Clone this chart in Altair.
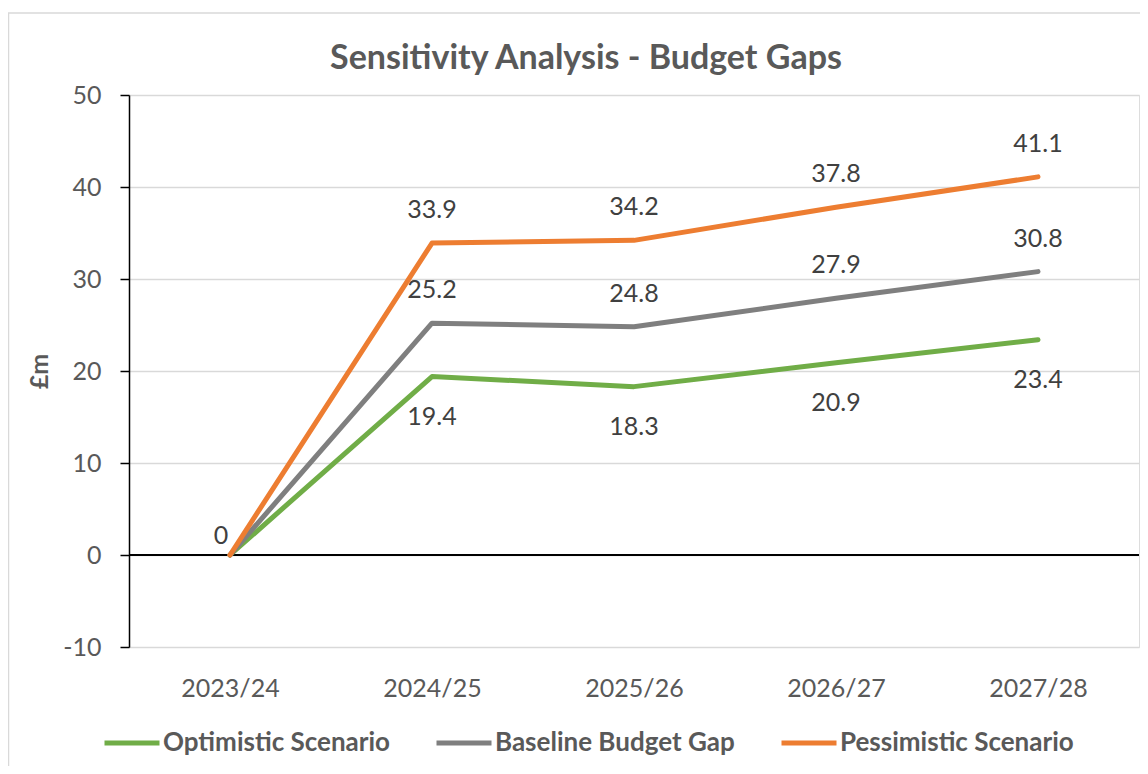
import altair as alt
import pandas as pd

years = ["2023/24", "2024/25", "2025/26", "2026/27", "2027/28"]
series = ["Optimistic Scenario", "Baseline Budget Gap", "Pessimistic Scenario"]
optimistic = [0, 19.4, 18.3, 20.9, 23.4]
baseline = [0, 25.2, 24.8, 27.9, 30.8]
pessimistic = [0, 33.9, 34.2, 37.8, 41.1]
colors = ["#70AD47", "#7F7F7F", "#ED7D31"]
y_ticks = [-10, 0, 10, 20, 30, 40, 50]
title_text = "Sensitivity Analysis - Budget Gaps"

rows = []
for s, vals in zip(series, [optimistic, baseline, pessimistic]):
    for yr, v in zip(years, vals):
        rows.append({"Year": yr, "Series": s, "Value": v})
df = pd.DataFrame(rows)

FONT = "Lato"
W, H = 1010, 552

x_enc = alt.X(
    "Year:N", sort=years,
    scale=alt.Scale(type="point", padding=0.5),
    axis=alt.Axis(title=None, labelAngle=0, domain=False, ticks=False, grid=False,
                  labelPadding=29, labelFontSize=25, labelColor="#595959", labelFont=FONT),
)
y_enc = alt.Y(
    "Value:Q",
    scale=alt.Scale(domain=[-10, 50], nice=False, zero=False),
    axis=alt.Axis(values=y_ticks, title="£m", titleFont=FONT, titleFontSize=25,
                  titleFontWeight="bold", titleColor="#595959", titleX=-82, titleY=H / 2,
                  titleBaseline="alphabetic", titleAngle=270,
                  labelExpr="'' + datum.value",
                  labelFont=FONT, labelFontSize=25, labelColor="#595959", labelPadding=19,
                  tickSize=9, tickColor="#000000", tickWidth=1.5,
                  domainColor="#000000", domainWidth=1.5,
                  grid=True, gridColor="#D9D9D9", gridWidth=1.5),
)

base = alt.Chart(df)
one = pd.DataFrame({"t": [title_text]})

frame = alt.Chart(one).mark_rect(
    fill=None, stroke="#D9D9D9", strokeWidth=1.5
).encode(x=alt.value(-120.5), x2=alt.value(1200), y=alt.value(-82), y2=alt.value(800))

title = alt.Chart(one).mark_text(
    font=FONT, fontSize=34, fontWeight="bold", color="#595959",
    align="center", baseline="alphabetic"
).encode(x=alt.value(457), y=alt.value(-26), text="t:N")

zero_rule = base.mark_rule(color="#000000", strokeWidth=1.5).encode(y=alt.YDatum(0))

lines = base.mark_line(strokeWidth=5, strokeCap="round", strokeJoin="round").encode(
    x=x_enc, y=y_enc,
    color=alt.Color("Series:N", sort=series,
                    scale=alt.Scale(domain=series, range=colors),
                    legend=alt.Legend(title=None, orient="none", direction="horizontal",
                                      legendX=-27, legendY=618, symbolType="stroke",
                                      symbolSize=3025, symbolStrokeWidth=5,
                                      labelFont=FONT, labelFontSize=26, labelFontWeight="bold",
                                      labelColor="#595959", labelOffset=1, columnPadding=36,
                                      labelLimit=500, padding=0)),
)

text_style = dict(font=FONT, fontSize=25, color="#404040", baseline="alphabetic", align="center")

above = base.transform_filter(
    alt.FieldOneOfPredicate(field="Series", oneOf=series[1:])
).transform_filter(alt.datum.Year != years[0]).mark_text(dy=-25, **text_style).encode(
    x="Year:N", y="Value:Q", text=alt.Text("Value:Q"))

below = base.transform_filter(
    alt.datum.Series == series[0]
).transform_filter(alt.datum.Year != years[0]).mark_text(dy=48, **text_style).encode(
    x="Year:N", y="Value:Q", text=alt.Text("Value:Q"))

zero_lbl = base.transform_filter(
    (alt.datum.Series == series[2]) & (alt.datum.Year == years[0])
).mark_text(dy=-11, dx=-9, **text_style).encode(
    x="Year:N", y="Value:Q", text=alt.Text("Value:Q"))

chart = alt.layer(frame, title, zero_rule, lines, above, below, zero_lbl).properties(
    width=W, height=H,
    autosize=alt.AutoSizeParams(type="none"),
    padding={"left": 121, "top": 87, "right": 1, "bottom": 119},
).configure_view(stroke=None).configure(font=FONT, background="#FFFFFF")

chart.save("out.html", embed_options={"renderer": "svg", "actions": False})
